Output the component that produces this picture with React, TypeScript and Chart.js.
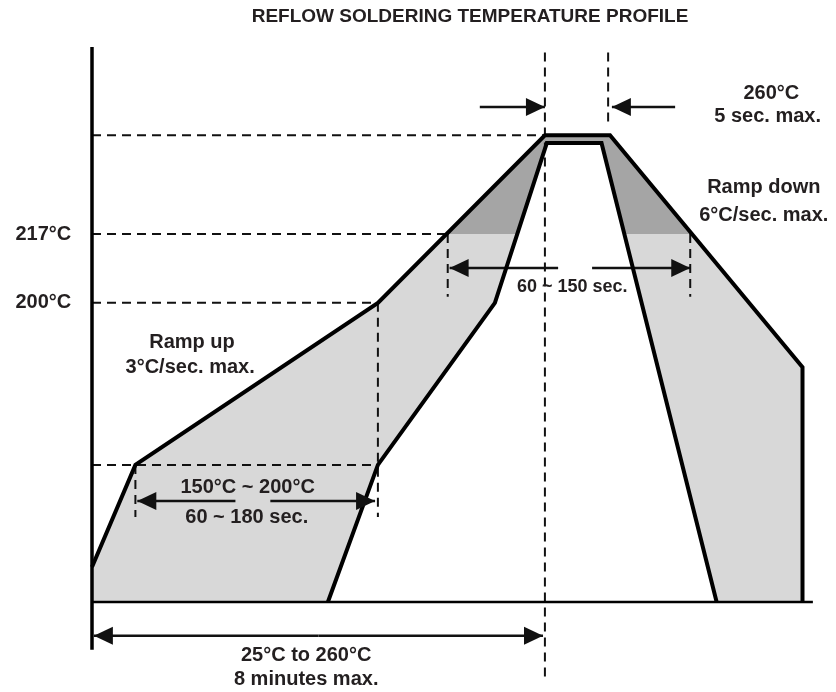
import React, { useEffect, useRef } from 'react';
import { Chart, registerables } from 'chart.js';

Chart.register(...registerables);

const TITLE = 'REFLOW SOLDERING TEMPERATURE PROFILE';
const FONT = '"Liberation Sans", Arial, sans-serif';

// Profile vertices: time (s, drawing units) and drawn height (% of axis height)
const UPPER_TIME = [0, 46, 303, 480, 549, 753, 753];
const UPPER_HEIGHT = [6.3, 24.7, 53.9, 84.1, 84.1, 42.3, 0];
const LOWER_TIME = [250, 303, 427, 482, 540, 662];
const LOWER_HEIGHT = [0, 24.7, 53.9, 82.7, 82.7, 0];

// Temperature levels marked on the drawing
const LEVEL_LABELS = ['217°C', '200°C'];
const LEVEL_HEIGHTS = [66.3, 53.9];
const LIQUIDUS_HEIGHT = 66.3;

// Axes extents
const TIME_MAX = 788.5;
const AXIS_TIME_END = 764;
const AXIS_HEIGHT_TOP = 100;
const AXIS_HEIGHT_BOTTOM = -8.6;

// Dashed guide segments [t1, h1, t2, h2]
const GUIDES: number[][] = [
  [0, 84.1, 480, 84.1],
  [0, 66.3, 377, 66.3],
  [377, 66.3, 377, 55],
  [0, 53.9, 303, 53.9],
  [303, 53.9, 303, 15.3],
  [0, 24.7, 303, 24.7],
  [46, 24.7, 46, 15.3],
  [480, 99, 480, -14.1],
  [547, 99, 547, 86.3],
  [634, 66.3, 634, 55],
];

// Arrows [fromT, fromH, tipT, tipH]
const ARROWS: number[][] = [
  [411, 89.2, 480, 89.2],
  [618, 89.2, 551, 89.2],
  [494, 60.2, 379, 60.2],
  [530, 60.2, 634, 60.2],
  [152, 18.2, 48, 18.2],
  [189, 18.2, 300, 18.2],
  [240, -6.1, 2, -6.1],
  [240, -6.1, 478, -6.1],
];

// Notes: text, time, height, font size
const NOTE_TEXTS = [
  '260°C', '5 sec. max.', 'Ramp down', '6°C/sec. max.',
  'Ramp up', '3°C/sec. max.', '60 ~ 150 sec.',
  '150°C ~ 200°C', '60 ~ 180 sec.', '25°C to 260°C', '8 minutes max.',
];
const NOTE_T = [720, 716, 712, 712, 106, 104, 509, 165, 164, 227, 227];
const NOTE_H = [91.7, 87.4, 74.6, 69.7, 46.8, 42.3, 56.8, 20.7, 15.3, -9.7, -13.9];
const NOTE_SIZE = [20, 20, 20, 20, 20, 20, 18, 20, 20, 20, 20];
const LEVEL_LABEL_T = -22;

type P = { x: number; y: number };

function zip(t: number[], h: number[]): P[] {
  return t.map((x, i) => ({ x, y: h[i] }));
}

function clipAbove(poly: P[], level: number): P[] {
  const out: P[] = [];
  for (let i = 0; i < poly.length; i++) {
    const a = poly[i];
    const b = poly[(i + 1) % poly.length];
    const ain = a.y >= level;
    const bin = b.y >= level;
    if (ain) out.push(a);
    if (ain !== bin) {
      const t = (level - a.y) / (b.y - a.y);
      out.push({ x: a.x + t * (b.x - a.x), y: level });
    }
  }
  return out;
}

const annotationPlugin = {
  id: 'annotations',
  afterDatasetsDraw(chart: any) {
    const { ctx } = chart;
    const xs = chart.scales.x;
    const ys = chart.scales.y;
    ctx.save();
    ctx.fillStyle = '#111';
    for (const [ft, fh, tt, th] of ARROWS) {
      const x0 = xs.getPixelForValue(ft);
      const y0 = ys.getPixelForValue(fh);
      const x1 = xs.getPixelForValue(tt);
      const y1 = ys.getPixelForValue(th);
      const ang = Math.atan2(y1 - y0, x1 - x0);
      const len = 19;
      const hw = 9;
      const bx = x1 - Math.cos(ang) * len;
      const by = y1 - Math.sin(ang) * len;
      ctx.beginPath();
      ctx.moveTo(x1, y1);
      ctx.lineTo(bx - Math.sin(ang) * hw, by + Math.cos(ang) * hw);
      ctx.lineTo(bx + Math.sin(ang) * hw, by - Math.cos(ang) * hw);
      ctx.closePath();
      ctx.fill();
    }
    ctx.fillStyle = '#231f20';
    ctx.textBaseline = 'middle';
    NOTE_TEXTS.forEach((txt, i) => {
      ctx.font = `bold ${NOTE_SIZE[i]}px ${FONT}`;
      ctx.textAlign = 'center';
      ctx.fillText(txt, xs.getPixelForValue(NOTE_T[i]), ys.getPixelForValue(NOTE_H[i]));
    });
    LEVEL_LABELS.forEach((txt, i) => {
      ctx.font = `bold 20px ${FONT}`;
      ctx.textAlign = 'right';
      ctx.fillText(txt, xs.getPixelForValue(LEVEL_LABEL_T), ys.getPixelForValue(LEVEL_HEIGHTS[i]));
    });
    ctx.restore();
  },
};

export default function App() {
  const ref = useRef<HTMLCanvasElement | null>(null);

  useEffect(() => {
    if (!ref.current) return;
    const upper = zip(UPPER_TIME, UPPER_HEIGHT);
    const lower = zip(LOWER_TIME, LOWER_HEIGHT);
    const band: P[] = [{ x: 0, y: 0 }, ...upper, ...lower.slice().reverse()];
    const hot = clipAbove(band, LIQUIDUS_HEIGHT);

    const base = {
      pointRadius: 0,
      pointHoverRadius: 0,
      clip: false as any,
      tension: 0,
    };

    const datasets: any[] = [];
    datasets.push({
      ...base, data: band, fill: 'shape', backgroundColor: '#d8d8d8',
      borderColor: 'transparent', borderWidth: 0, order: 50,
    });
    datasets.push({
      ...base, data: hot, fill: 'shape', backgroundColor: '#a5a5a5',
      borderColor: 'transparent', borderWidth: 0, order: 40,
    });
    GUIDES.forEach(([t1, h1, t2, h2]) => {
      datasets.push({
        ...base, data: [{ x: t1, y: h1 }, { x: t2, y: h2 }], fill: false,
        borderColor: '#111', borderWidth: 2, borderDash: [9, 6], order: 30,
      });
    });
    ARROWS.forEach(([t1, h1, t2, h2]) => {
      datasets.push({
        ...base, data: [{ x: t1, y: h1 }, { x: t2, y: h2 }], fill: false,
        borderColor: '#111', borderWidth: 2.5, order: 20,
      });
    });
    datasets.push({
      ...base, data: upper, fill: false, borderColor: '#000', borderWidth: 4,
      borderJoinStyle: 'miter', order: 10,
    });
    datasets.push({
      ...base, data: lower, fill: false, borderColor: '#000', borderWidth: 4,
      borderJoinStyle: 'miter', order: 10,
    });
    datasets.push({
      ...base, data: [{ x: 0, y: AXIS_HEIGHT_BOTTOM }, { x: 0, y: AXIS_HEIGHT_TOP }],
      fill: false, borderColor: '#000', borderWidth: 3.5, order: 5,
    });
    datasets.push({
      ...base, data: [{ x: 0, y: 0 }, { x: AXIS_TIME_END, y: 0 }],
      fill: false, borderColor: '#000', borderWidth: 2.5, order: 5,
    });

    const chart = new Chart(ref.current, {
      type: 'line',
      data: { datasets },
      options: {
        animation: false,
        responsive: false,
        events: [],
        layout: { padding: { left: 92, right: -12, top: 0, bottom: 90 } },
        scales: {
          x: { type: 'linear', min: 0, max: TIME_MAX, display: false },
          y: { type: 'linear', min: 0, max: 100, display: false },
        },
        plugins: {
          legend: { display: false },
          tooltip: { enabled: false },
          title: {
            display: true,
            text: TITLE,
            color: '#231f20',
            font: { family: FONT, size: 19, weight: 'bold' },
            padding: { top: 5.6, bottom: 18.6 },
          },
        },
      },
      plugins: [annotationPlugin],
    });
    return () => chart.destroy();
  }, []);

  return (
    <div style={{ position: 'fixed', left: 0, top: 0, width: 836, height: 692, background: '#fff' }}>
      <canvas ref={ref} width={836} height={692} style={{ display: 'block' }} />
    </div>
  );
}
